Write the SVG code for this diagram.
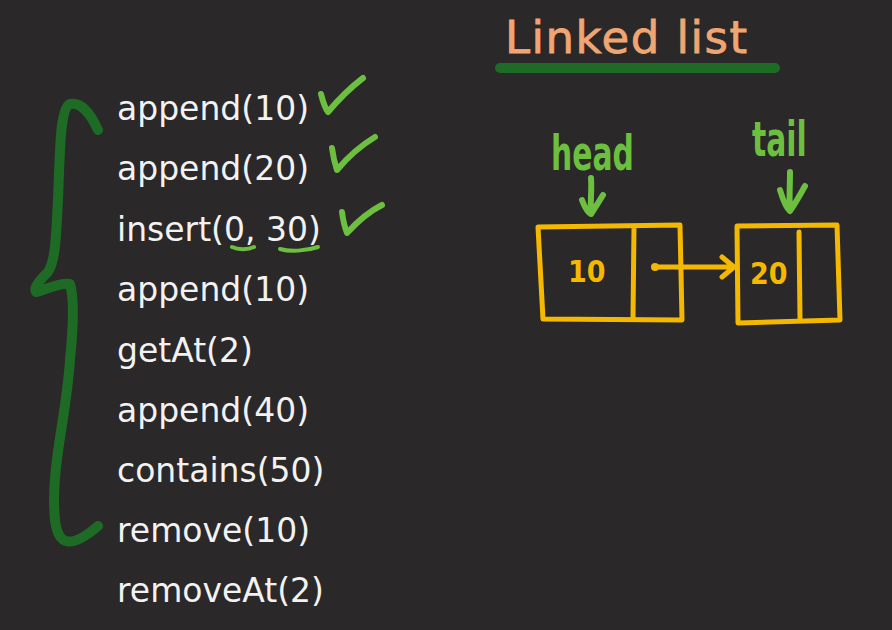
<svg xmlns="http://www.w3.org/2000/svg" width="892" height="630" viewBox="0 0 892 630">
<style>
.op{font-family:"DejaVu Sans","Liberation Sans",sans-serif;font-size:33px;fill:#f2f2f2}
.hand{font-family:"DejaVu Sans Condensed","DejaVu Sans",sans-serif;font-weight:bold;fill:#6cbf3f}
.pen{fill:none;stroke-linecap:round;stroke-linejoin:round}
.yel{stroke:#f5b800;stroke-width:5}
.grn{stroke:#6cbf3f;stroke-width:6}
.dk{stroke:#1d6b25;stroke-width:10}
.num{font-family:"DejaVu Sans Condensed","DejaVu Sans",sans-serif;font-weight:bold;font-size:30px;fill:#f5b800}
</style>
<rect width="892" height="630" fill="#2a2829"/>

<g id="title">
<text x="505" y="53" font-family="DejaVu Sans,sans-serif" font-size="45" letter-spacing="1.5" fill="#f0a672" stroke="#f0a672" stroke-width="0.8">Linked list</text>
<path class="pen dk" d="M500 68 L775 68"/>
</g>

<g id="brace">
<path class="pen dk" d="M98 130 C90 112 80 102 70 104 C60 108 60 150 58 200 C56 240 55 262 48 272 C40 280 33 288 36 292 C45 290 60 282 70 284 C75 300 73 330 70 360 C66 420 50 470 55 520 C58 545 70 550 98 526"/>
</g>

<g id="ops">
<text class="op" x="117" y="120">append(10)</text>
<text class="op" x="117" y="180">append(20)</text>
<text class="op" x="117" y="241">insert(0, 30)</text>
<text class="op" x="117" y="301">append(10)</text>
<text class="op" x="117" y="362">getAt(2)</text>
<text class="op" x="117" y="422">append(40)</text>
<text class="op" x="117" y="482">contains(50)</text>
<text class="op" x="117" y="542">remove(10)</text>
<text class="op" x="117" y="602">removeAt(2)</text>
</g>

<g id="marks">
<path class="pen grn" d="M321 94 C323 102 325 108 328 112 C338 100 350 88 363 78"/>
<path class="pen grn" d="M332 148 C333 156 335 164 337 170 C347 158 360 146 375 137"/>
<path class="pen grn" d="M342 212 C343 220 345 228 347 233 C357 222 368 212 382 205"/>
<path class="pen" stroke="#6cbf3f" stroke-width="4" d="M232 247 C238 250 248 250 254 247"/>
<path class="pen" stroke="#6cbf3f" stroke-width="4" d="M280 249 C290 252 306 251 318 247"/>
</g>

<g id="head">
<text class="hand" x="551" y="170" font-size="46" transform="translate(551 170) scale(0.72 1.05) translate(-551 -170)">head</text>
<path class="pen grn" d="M591 178 C592 190 590 204 591 214 M582 200 C585 208 588 213 591 214 C595 208 600 200 603 195"/>
</g>

<g id="tail">
<text class="hand" x="752" y="156" font-size="46" transform="translate(752 156) scale(0.72 1.05) translate(-752 -156)">tail</text>
<path class="pen grn" d="M790 172 C790 185 789 200 790 210 M780 190 C783 200 786 208 790 211 C795 204 800 195 805 186"/>
</g>

<g id="node10">
<path class="pen yel" d="M538 227 L680 225 L682 320 L543 319 Z M634 227 L633 318"/>
<text class="num" x="568" y="282">10</text>
</g>

<g id="node20">
<path class="pen yel" d="M737 226 L837 225 L840 320 L738 323 Z M799 232 L800 318"/>
<text class="num" x="750" y="284">20</text>
</g>

<g id="connectors">
<circle cx="655" cy="267" r="4" fill="#f5b800"/>
<path class="pen yel" d="M655 267 L733 267 M722 257 L734 267 L722 277"/>
</g>
</svg>
